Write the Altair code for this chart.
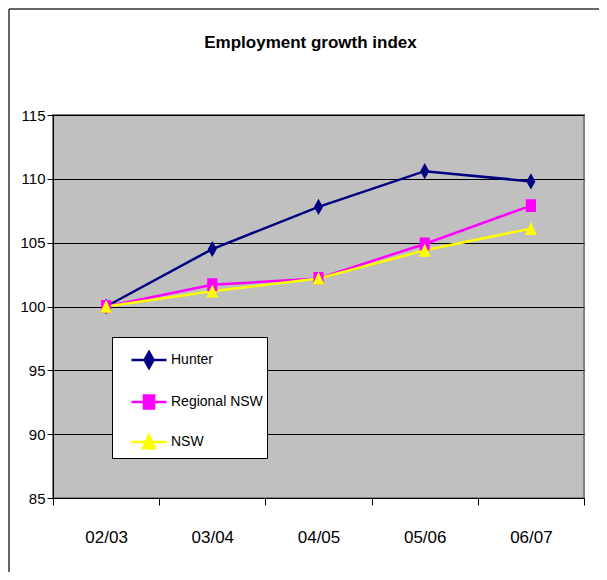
import altair as alt
import pandas as pd

periods = ["02/03", "03/04", "04/05", "05/06", "06/07"]
series_names = ["Hunter", "Regional NSW", "NSW"]
hunter = [100.0, 104.5, 107.8, 110.6, 109.8]
regional_nsw = [100.0, 101.7, 102.2, 104.9, 107.9]
nsw = [100.0, 101.2, 102.2, 104.4, 106.1]
y_ticks = [85, 90, 95, 100, 105, 110, 115]

colors = ["#000080", "#FF00FF", "#FFFF00"]
# legend/marker shapes: a line segment plus the marker
shapes = [
    "M-1,0H1M0,-0.46L0.26,0L0,0.46L-0.26,0Z",
    "M-1,0H1M-0.29,-0.37H0.29V0.37H-0.29Z",
    "M-1,0H1M0,-0.38L0.34,0.36H-0.34Z",
]

rows = []
for name, vals in zip(series_names, [hunter, regional_nsw, nsw]):
    for p, v in zip(periods, vals):
        rows.append({"Period": p, "Series": name, "Value": v})
df = pd.DataFrame(rows)

FONT = "Liberation Sans, Arial, sans-serif"

x_enc = alt.X(
    "Period:N",
    sort=periods,
    scale=alt.Scale(type="band", paddingInner=0, paddingOuter=0),
    axis=alt.Axis(
        title=None, labelAngle=0, tickBand="extent", tickSize=7,
        labelFontSize=17, labelPadding=24, labelFont=FONT, labelColor="black",
        domainColor="black", tickColor="black", grid=False,
    ),
)
y_enc = alt.Y(
    "Value:Q",
    scale=alt.Scale(domain=[85, 115], nice=False, zero=False),
    axis=alt.Axis(
        title=None, values=y_ticks, tickSize=6, labelFontSize=15,
        labelFont=FONT, labelColor="black", labelPadding=2,
        domainColor="black", tickColor="black", grid=True,
        gridColor="black", gridOpacity=1, gridWidth=1,
    ),
)

color_scale = alt.Scale(domain=series_names, range=colors)
shape_scale = alt.Scale(domain=series_names, range=shapes)

legend = alt.Legend(
    title=None, orient="none", legendX=59, legendY=222,
    fillColor="white", strokeColor="black", padding=4,
    symbolOffset=14, rowPadding=9, labelFontSize=14, labelFont=FONT,
    labelColor="black", symbolStrokeWidth=2.5, symbolSize=1225,
    labelOffset=3, labelExpr="datum.label + '         '",
)

lines = alt.Chart(df).mark_line(strokeWidth=2.5).encode(
    x=x_enc,
    y=y_enc,
    color=alt.Color("Series:N", scale=color_scale, legend=legend, sort=series_names),
    detail="Series:N",
)

points = alt.Chart(df).mark_point(filled=True, size=1225, opacity=1, strokeWidth=0).encode(
    x=alt.X("Period:N", sort=periods),
    y=alt.Y("Value:Q"),
    color=alt.Color("Series:N", scale=color_scale, legend=legend, sort=series_names),
    stroke=alt.Stroke("Series:N", scale=color_scale, legend=legend, sort=series_names),
    shape=alt.Shape("Series:N", scale=shape_scale, legend=legend, sort=series_names),
)

frame_df = pd.DataFrame({"f": [0]})
frame_left = alt.Chart(frame_df).mark_rule(color="#333333", strokeWidth=1.5).encode(
    x=alt.value(-44), y=alt.value(-106), y2=alt.value(460)
)
frame_top = alt.Chart(frame_df).mark_rule(color="#333333", strokeWidth=1.5).encode(
    x=alt.value(-44), x2=alt.value(550), y=alt.value(-106)
)

chart = alt.layer(frame_left, frame_top, lines, points).properties(
    width=531,
    height=383,
    padding={"left": 45, "top": 107, "right": 15, "bottom": 74},
    autosize=alt.AutoSizeParams(type="none"),
    background="white",
    title=alt.Title(
        "Employment growth index", font=FONT, fontSize=17, fontWeight="bold",
        color="black", anchor="middle", offset=0, dx=-8, dy=57,
        baseline="alphabetic",
    ),
).configure_view(
    fill="#C0C0C0", stroke="#808080", strokeWidth=2
)

chart.save("out.html", embed_options={"renderer": "svg", "actions": False})
